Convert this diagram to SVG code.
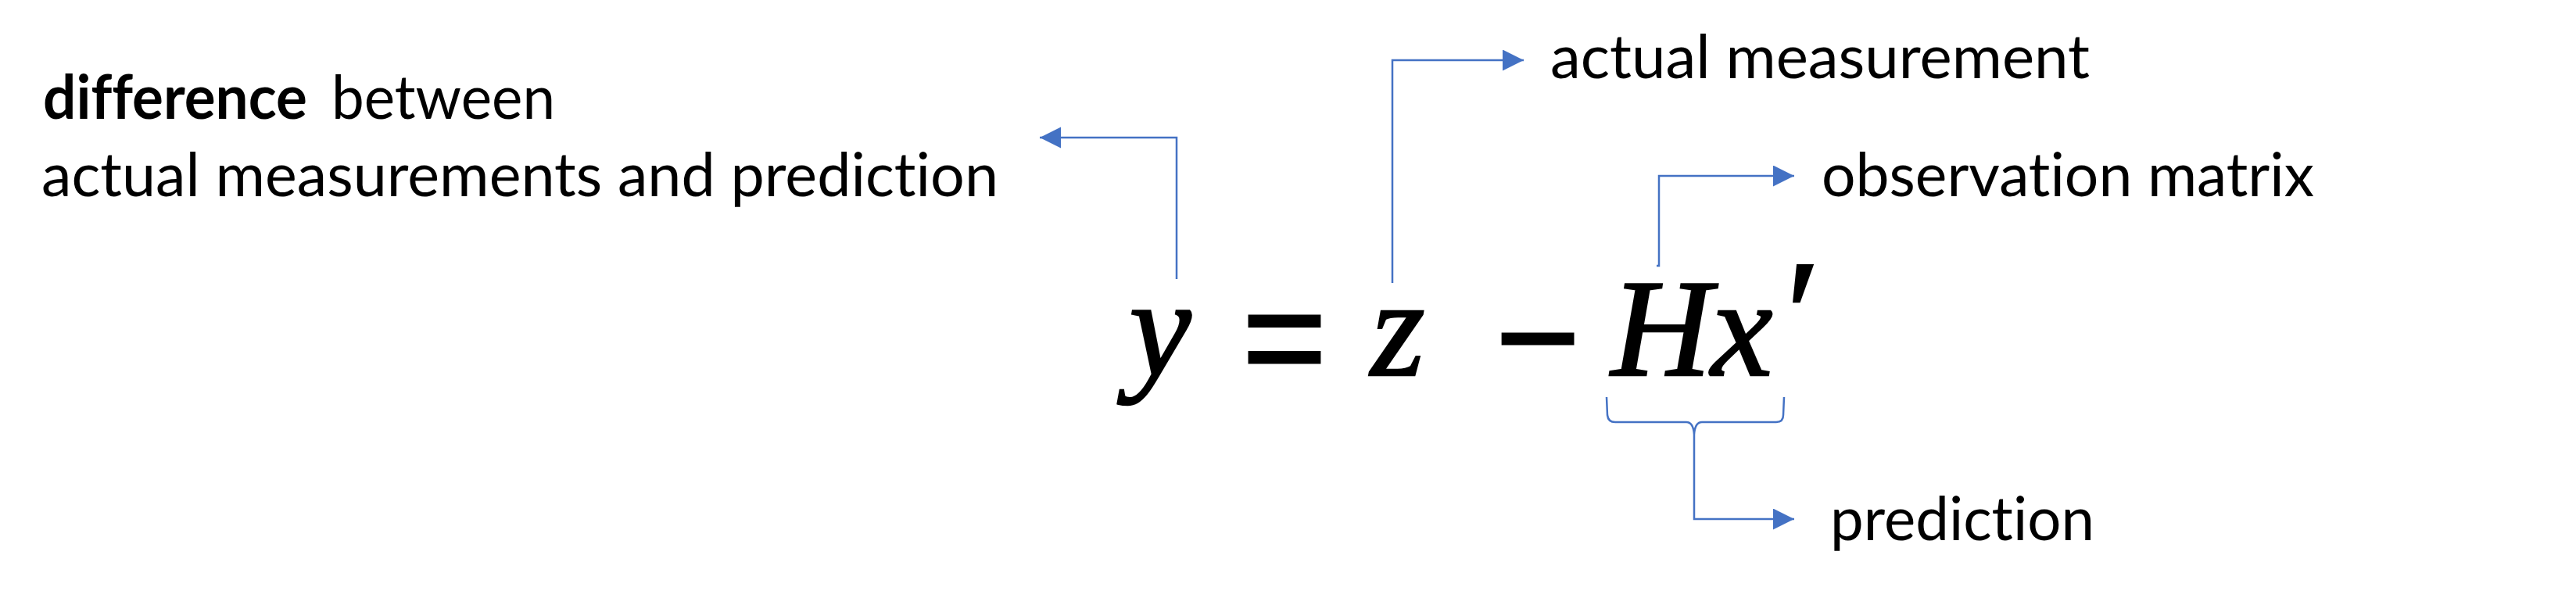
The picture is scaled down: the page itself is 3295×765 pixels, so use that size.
<svg xmlns="http://www.w3.org/2000/svg" width="3295" height="765" viewBox="0 0 3295 765">
<style>
.lbl{font-family:Lato,"Open Sans","Liberation Sans",sans-serif;font-size:78px;fill:#000;font-variant-ligatures:none;font-feature-settings:"liga" 0,"clig" 0}
.b{font-weight:bold}
.m{font-family:"Liberation Serif","DejaVu Serif",serif;font-style:italic;font-size:178px;fill:#000;stroke:#000;stroke-width:2.5}
.op{font-family:"Liberation Sans",Arial,sans-serif;font-size:185px;fill:#000;stroke:#000;stroke-width:3}
.c{fill:none;stroke:#4472C4;stroke-width:2.5}
</style>
<defs>
<marker id="ah" markerUnits="userSpaceOnUse" markerWidth="28" markerHeight="28" refX="27" refY="13.5" orient="auto">
<path d="M0,0 L27,13.5 L0,27 Z" fill="#4472C4"/>
</marker>
</defs>
<rect width="3295" height="765" fill="#fff"/>
<g id="node-difference">
<text class="lbl" y="152"><tspan class="b" x="55" textLength="338" lengthAdjust="spacingAndGlyphs">difference</tspan><tspan x="424" textLength="286" lengthAdjust="spacingAndGlyphs">between</tspan></text>
<text class="lbl" x="53" y="251" textLength="1224" lengthAdjust="spacingAndGlyphs">actual measurements and prediction</text>
</g>
<g id="node-equation">
<text class="m" x="1484" y="480" text-anchor="middle">y</text>
<text class="op" x="1643" y="495" text-anchor="middle">=</text>
<text class="m" x="1788" y="480" text-anchor="middle">z</text>
<text class="op" x="1967" y="495" text-anchor="middle">−</text>
<text class="m" x="2125" y="480" text-anchor="middle">H</text>
<text class="m" x="2228" y="480" text-anchor="middle">x</text>
<text class="m" x="2294" y="470" text-anchor="middle" style="font-size:200px">′</text>
</g>
<g id="node-actual">
<text class="lbl" x="1983" y="100" textLength="690" lengthAdjust="spacingAndGlyphs">actual measurement</text>
</g>
<g id="node-observation">
<text class="lbl" x="2330" y="251" textLength="630" lengthAdjust="spacingAndGlyphs">observation matrix</text>
</g>
<g id="node-prediction">
<text class="lbl" x="2341" y="691" textLength="338" lengthAdjust="spacingAndGlyphs">prediction</text>
</g>
<g id="connectors">
<path class="c" d="M1505,357 L1505,176 L1330,176" marker-end="url(#ah)"/>
<path class="c" d="M1781,362 L1781,77 L1949,77" marker-end="url(#ah)"/>
<path class="c" d="M2119,340 L2122,340 L2122,225 L2295,225" marker-end="url(#ah)"/>
<path class="c" d="M2055,508 L2056,531 Q2057,540 2066,540 L2157,540 Q2166,540 2167,556 Q2168,540 2177,540 L2272,540 Q2281,540 2281,531 L2282,508"/>
<path class="c" d="M2167,556 L2167,664 L2295,664" marker-end="url(#ah)"/>
</g>
</svg>
